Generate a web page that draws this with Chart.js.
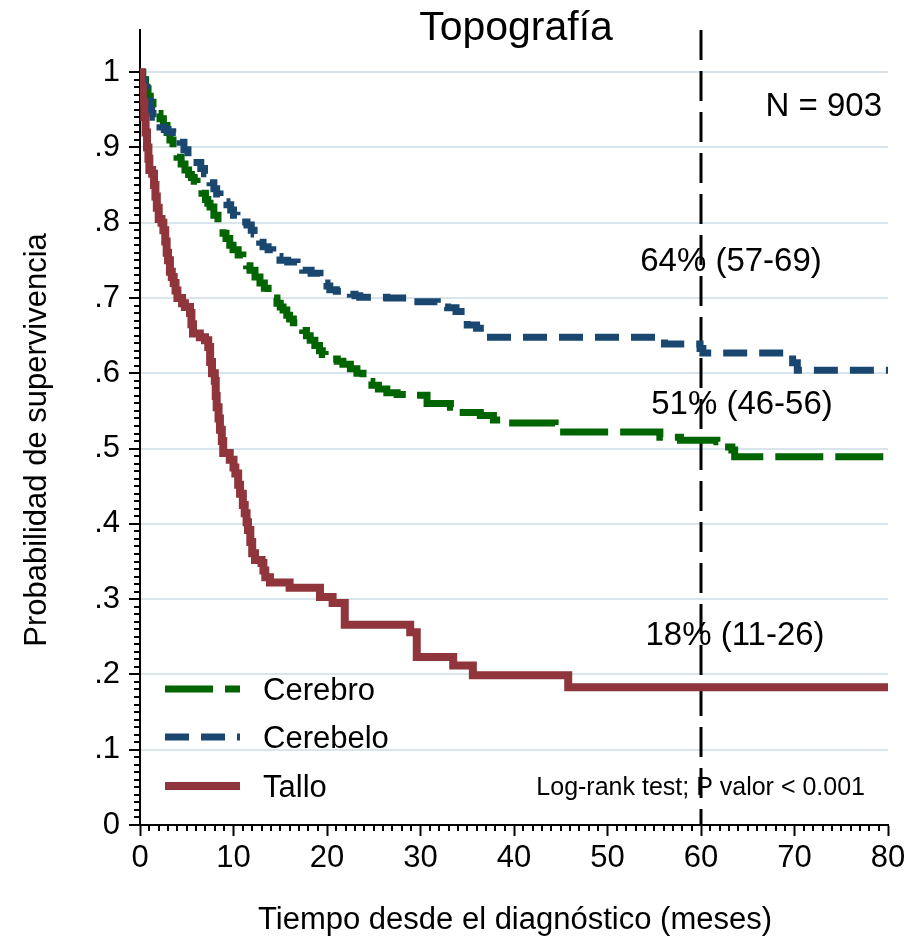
<!DOCTYPE html>
<html>
<head>
<meta charset="utf-8">
<title>Topografía</title>
<script src="https://cdn.jsdelivr.net/npm/chart.js@4.4.1/dist/chart.umd.min.js"></script>
<style>
  html, body { margin: 0; padding: 0; background: #fff; }
  #wrap { width: 914px; height: 940px; }
</style>
</head>
<body>
<div id="wrap"><canvas id="km" width="914" height="940"></canvas></div>
<script>
  // Kaplan-Meier curves (time in months, survival 0-1)
  const cerebroTimes = [0, 0.3, 0.6, 0.86, 1.1, 1.39, 1.7, 2.14, 2.5, 2.89, 3.2, 3.53, 3.75, 3.96, 4.4, 4.81, 5.2, 5.5, 5.8, 6.1, 6.4, 6.63, 7.0, 7.25, 7.49, 7.9, 8.34, 8.6, 8.88, 9.2, 9.6, 9.95, 10.5, 11.0, 11.4, 11.76, 12.3, 12.83, 13.3, 13.7, 14.2, 14.65, 15.0, 15.3, 15.7, 16.0, 16.4, 16.9, 17.4, 17.8, 18.2, 18.7, 19.2, 19.5, 19.8, 20.5, 21.1, 21.7, 22.5, 23.2, 23.85, 24.3, 24.8, 25.5, 26.4, 27.5, 28.9, 30.7, 33.2, 33.7, 36.4, 37.8, 39.0, 44.4, 55.6, 57.8, 61.7, 62.2, 63.3, 63.6, 80];
  const cerebroSurv = [1, 0.99, 0.978, 0.968, 0.96, 0.951, 0.945, 0.938, 0.929, 0.920, 0.91, 0.899, 0.893, 0.887, 0.878, 0.870, 0.864, 0.860, 0.855, 0.850, 0.844, 0.839, 0.831, 0.826, 0.821, 0.81, 0.799, 0.793, 0.786, 0.779, 0.770, 0.764, 0.757, 0.750, 0.743, 0.737, 0.728, 0.720, 0.713, 0.707, 0.70, 0.693, 0.688, 0.684, 0.677, 0.672, 0.667, 0.662, 0.657, 0.650, 0.644, 0.637, 0.630, 0.625, 0.621, 0.619, 0.616, 0.612, 0.606, 0.600, 0.594, 0.589, 0.584, 0.579, 0.574, 0.572, 0.571, 0.560, 0.555, 0.548, 0.544, 0.538, 0.534, 0.522, 0.515, 0.511, 0.509, 0.502, 0.498, 0.489, 0.489];

  const cerebeloTimes = [0, 0.25, 0.5, 0.75, 0.9, 1.07, 1.25, 1.39, 1.7, 2.14, 2.6, 3.0, 3.5, 3.96, 4.28, 4.7, 5.13, 5.6, 6.1, 6.5, 6.9, 7.17, 7.49, 7.9, 8.2, 8.56, 9.0, 9.3, 9.7, 10.0, 10.37, 10.9, 11.44, 11.9, 12.2, 12.5, 12.8, 13.16, 13.7, 14.2, 14.6, 14.97, 15.8, 16.8, 17.1, 17.4, 18.3, 19.25, 19.5, 19.8, 20.0, 20.3, 21.0, 21.7, 22.5, 23.0, 23.5, 26.4, 28.6, 31.8, 32.9, 33.8, 34.8, 35.0, 36.0, 36.4, 56.1, 59.9, 60.2, 69.8, 70.3, 80];
  const cerebeloSurv = [1, 0.99, 0.98, 0.972, 0.962, 0.950, 0.945, 0.940, 0.934, 0.927, 0.924, 0.921, 0.920, 0.915, 0.907, 0.897, 0.887, 0.885, 0.880, 0.872, 0.865, 0.861, 0.853, 0.845, 0.838, 0.830, 0.828, 0.824, 0.817, 0.810, 0.803, 0.801, 0.797, 0.790, 0.785, 0.779, 0.774, 0.768, 0.764, 0.760, 0.755, 0.750, 0.748, 0.746, 0.741, 0.737, 0.733, 0.728, 0.724, 0.720, 0.716, 0.711, 0.709, 0.708, 0.705, 0.703, 0.701, 0.700, 0.695, 0.688, 0.687, 0.682, 0.677, 0.664, 0.660, 0.648, 0.639, 0.633, 0.627, 0.614, 0.604, 0.604];

  const talloTimes = [0, 0.15, 0.3, 0.45, 0.6, 0.75, 0.9, 1.0, 1.3, 1.5, 1.65, 1.8, 2.0, 2.3, 2.5, 2.7, 2.85, 3.0, 3.2, 3.4, 3.6, 3.8, 4.0, 4.5, 4.8, 5.35, 5.5, 5.67, 6.4, 6.95, 7.3, 7.5, 7.7, 8.0, 8.1, 8.2, 8.4, 8.55, 8.75, 8.9, 9.6, 10.0, 10.2, 10.5, 10.7, 11.0, 11.2, 11.4, 11.55, 11.8, 12.0, 12.3, 13.0, 13.2, 13.4, 13.9, 16.0, 19.25, 20.6, 21.9, 28.9, 29.6, 33.5, 35.6, 45.8, 80];
  const talloSurv = [1, 0.98, 0.96, 0.94, 0.92, 0.90, 0.885, 0.87, 0.865, 0.85, 0.835, 0.82, 0.805, 0.80, 0.79, 0.775, 0.76, 0.75, 0.735, 0.728, 0.72, 0.71, 0.70, 0.693, 0.688, 0.68, 0.665, 0.653, 0.648, 0.644, 0.635, 0.615, 0.60, 0.59, 0.57, 0.555, 0.54, 0.525, 0.51, 0.494, 0.485, 0.475, 0.467, 0.452, 0.44, 0.425, 0.414, 0.402, 0.392, 0.376, 0.361, 0.352, 0.348, 0.338, 0.329, 0.322, 0.315, 0.303, 0.295, 0.266, 0.256, 0.223, 0.212, 0.199, 0.183, 0.183];

  const seriesNames = ['Cerebro', 'Cerebelo', 'Tallo'];

  // Axis ticks
  const xTicks = [0, 10, 20, 30, 40, 50, 60, 70, 80];
  const yTicks = [0, 0.1, 0.2, 0.3, 0.4, 0.5, 0.6, 0.7, 0.8, 0.9, 1];
  const yTickLabels = ['0', '.1', '.2', '.3', '.4', '.5', '.6', '.7', '.8', '.9', '1'];

  // Reference line and annotations
  const refTime = 60;
  const survLabels = ['64% (57-69)', '51% (46-56)', '18% (11-26)'];
  const sampleLabel = 'N = 903';
  const testLabel = 'Log-rank test; P valor < 0.001';

  const FONT = '"Liberation Sans", Arial, Helvetica, sans-serif';
  const COLORS = ['#006400', '#1a476f', '#90353b'];
  const DASHES = [[48, 12], [24, 12], []];
  const WIDTHS = [7, 7, 8];

  const toPoints = (times, surv) => times.map((t, i) => ({ x: t, y: surv[i] }));

  const curves = [
    toPoints(cerebroTimes, cerebroSurv),
    toPoints(cerebeloTimes, cerebeloSurv),
    toPoints(talloTimes, talloSurv)
  ];

  const datasets = curves.map((points, i) => ({
    label: seriesNames[i],
    data: points,
    borderColor: COLORS[i],
    borderWidth: WIDTHS[i],
    borderDash: DASHES[i],
    borderCapStyle: 'butt',
    borderJoinStyle: 'miter',
    stepped: 'before',
    pointRadius: 0,
    fill: false,
    tension: 0,
    order: 2 - i // Tallo drawn on top
  }));

  // Minor ticks, reference line, legend and text blocks
  const kmDecor = {
    id: 'kmDecor',
    beforeDatasetsDraw(chart) {
      const { ctx, chartArea, scales } = chart;
      const x = scales.x.getPixelForValue(refTime);
      ctx.save();
      ctx.strokeStyle = '#000';
      ctx.lineWidth = 3;
      ctx.setLineDash([30, 11]);
      ctx.beginPath();
      ctx.moveTo(x, chartArea.top);
      ctx.lineTo(x, chartArea.bottom);
      ctx.stroke();
      ctx.restore();
    },
    afterDraw(chart) {
      const { ctx, chartArea, scales } = chart;
      const { x: xs, y: ys } = scales;
      ctx.save();

      // minor ticks: 1 month on x, 0.01 on y
      ctx.strokeStyle = '#000';
      ctx.lineWidth = 2;
      ctx.beginPath();
      for (let m = 1; m < 80; m++) {
        if (m % 10 === 0) continue;
        const px = Math.round(xs.getPixelForValue(m));
        ctx.moveTo(px, chartArea.bottom);
        ctx.lineTo(px, chartArea.bottom + 6);
      }
      for (let k = 1; k < 100; k++) {
        if (k % 10 === 0) continue;
        const py = Math.round(ys.getPixelForValue(k / 100));
        ctx.moveTo(chartArea.left, py);
        ctx.lineTo(chartArea.left - 6, py);
      }
      ctx.stroke();

      ctx.fillStyle = '#000';
      ctx.textBaseline = 'alphabetic';

      // title
      ctx.font = `41px ${FONT}`;
      ctx.textAlign = 'center';
      ctx.fillText('Topografía', 516, 40);

      // axis titles
      ctx.font = `31px ${FONT}`;
      ctx.fillText('Tiempo desde el diagnóstico (meses)', 515, 929);
      ctx.save();
      ctx.translate(46, 440);
      ctx.rotate(-Math.PI / 2);
      ctx.fillText('Probabilidad de supervivencia', 0, 0);
      ctx.restore();

      // survival at 60 months
      ctx.font = `33px ${FONT}`;
      ctx.fillText(survLabels[0], 731, 271);
      ctx.fillText(survLabels[1], 742, 414);
      ctx.fillText(survLabels[2], 735, 645);

      ctx.textAlign = 'right';
      ctx.fillText(sampleLabel, 882, 116);
      ctx.font = `25px ${FONT}`;
      ctx.fillText(testLabel, 865, 795);

      // legend
      const legendRows = [689, 737, 786];
      ctx.textAlign = 'left';
      ctx.font = `31px ${FONT}`;
      seriesNames.forEach((name, i) => {
        const y = legendRows[i];
        ctx.strokeStyle = COLORS[i];
        ctx.lineWidth = WIDTHS[i];
        ctx.lineCap = 'butt';
        ctx.setLineDash(DASHES[i]);
        ctx.beginPath();
        ctx.moveTo(165, y);
        ctx.lineTo(240, y);
        ctx.stroke();
        ctx.setLineDash([]);
        ctx.fillText(name, 263, y + 11);
      });

      ctx.restore();
    }
  };

  const tickFont = { family: FONT, size: 31 };

  new Chart(document.getElementById('km'), {
    type: 'line',
    data: { datasets },
    options: {
      responsive: false,
      animation: false,
      events: [],
      layout: { padding: { top: 30, right: 26, left: 0, bottom: 0 } },
      plugins: {
        legend: { display: false },
        tooltip: { enabled: false },
        title: { display: false }
      },
      scales: {
        x: {
          type: 'linear',
          min: 0,
          max: 80,
          afterBuildTicks: (axis) => { axis.ticks = xTicks.map(v => ({ value: v })); },
          afterFit: (axis) => { axis.height = 115; },
          ticks: {
            autoSkip: false,
            maxRotation: 0,
            padding: 4,
            color: '#000',
            font: tickFont,
            callback: (v) => String(v)
          },
          grid: { drawOnChartArea: false, drawTicks: true, tickLength: 11, tickColor: '#000', tickWidth: 2 },
          border: { display: true, color: '#000', width: 2 }
        },
        y: {
          type: 'linear',
          min: 0,
          max: 1.056,
          afterBuildTicks: (axis) => { axis.ticks = yTicks.map(v => ({ value: v })); },
          afterFit: (axis) => { axis.width = 140; },
          ticks: {
            autoSkip: false,
            padding: 9,
            color: '#000',
            font: tickFont,
            callback: (v, i) => yTickLabels[i]
          },
          grid: {
            color: (c) => (c.tick && c.tick.value === 0 ? 'rgba(0,0,0,0)' : '#d9e4ec'),
            lineWidth: 2,
            drawTicks: true,
            tickLength: 11,
            tickColor: '#000',
            tickWidth: 2
          },
          border: { display: true, color: '#000', width: 2 }
        }
      }
    },
    plugins: [kmDecor]
  });
</script>
</body>
</html>
